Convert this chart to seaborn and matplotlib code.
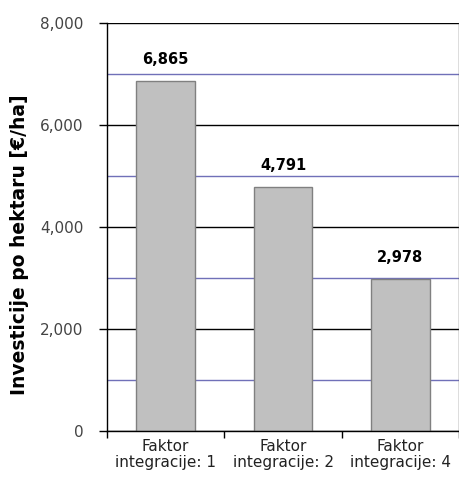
import matplotlib
matplotlib.use("Agg")
import matplotlib.pyplot as plt
from matplotlib.ticker import FuncFormatter, MultipleLocator, FixedLocator
import seaborn as sns
import pandas as pd

categories = ["Faktor\nintegracije: 1", "Faktor\nintegracije: 2", "Faktor\nintegracije: 4"]
values = [6865, 4791, 2978]
y_ticks = [0, 2000, 4000, 6000, 8000]

df = pd.DataFrame({"kategorija": categories, "investicija": values})

sns.set_theme(style="white")
plt.rcParams["font.family"] = ["DejaVu Sans"]

fig = plt.figure(figsize=(4.6, 4.82), dpi=100)
ax = fig.add_axes([0.2326, 0.1058, 0.7654, 0.8462])

sns.barplot(data=df, x="kategorija", y="investicija", ax=ax,
            color="#c0c0c0", edgecolor="#808080", linewidth=1.0,
            width=0.5, saturation=1)

ax.set_ylim(0, 8000)
ax.set_xlim(-0.5, 2.5)
ax.yaxis.set_major_locator(FixedLocator(y_ticks))
ax.yaxis.set_minor_locator(MultipleLocator(1000))
ax.yaxis.set_major_formatter(FuncFormatter(lambda v, p: f"{int(v):,}"))

ax.set_axisbelow(True)
ax.grid(False)
ax.yaxis.grid(True, which="major", color="black", linewidth=1.0)
ax.yaxis.grid(True, which="minor", color="#7070b8", linewidth=1.0)

# category boundary ticks on the x axis
ax.xaxis.set_minor_locator(FixedLocator([-0.5, 0.5, 1.5, 2.5]))
ax.tick_params(axis="x", which="major", length=0, pad=6, labelsize=11, labelcolor="#222222")
ax.tick_params(axis="x", which="minor", length=5, width=1, color="black", direction="out", bottom=True)
ax.tick_params(axis="y", which="major", length=6, width=1, color="black", direction="out",
               left=True, labelsize=11, labelcolor="#444444", pad=11)
ax.tick_params(axis="y", which="minor", length=0)

for lbl in ax.get_xticklabels():
    lbl.set_linespacing(1.05)

for side in ["left", "bottom"]:
    ax.spines[side].set_color("black")
    ax.spines[side].set_linewidth(1.0)
ax.spines["top"].set_visible(False)
ax.spines["right"].set_color("#555555")
ax.spines["right"].set_linewidth(1.0)

ax.set_xlabel("")
ax.set_ylabel("Investicije po hektaru [€/ha]", fontsize=13.5, fontweight="bold", color="black")
ax.yaxis.set_label_coords(-0.222, 0.456)

for i, v in enumerate(values):
    ax.annotate(f"{v:,}", xy=(i, v), xytext=(0, 10), textcoords="offset points",
                ha="center", va="bottom", fontsize=10.5, fontweight="bold", color="black")

fig.savefig("out.png", dpi=100)
